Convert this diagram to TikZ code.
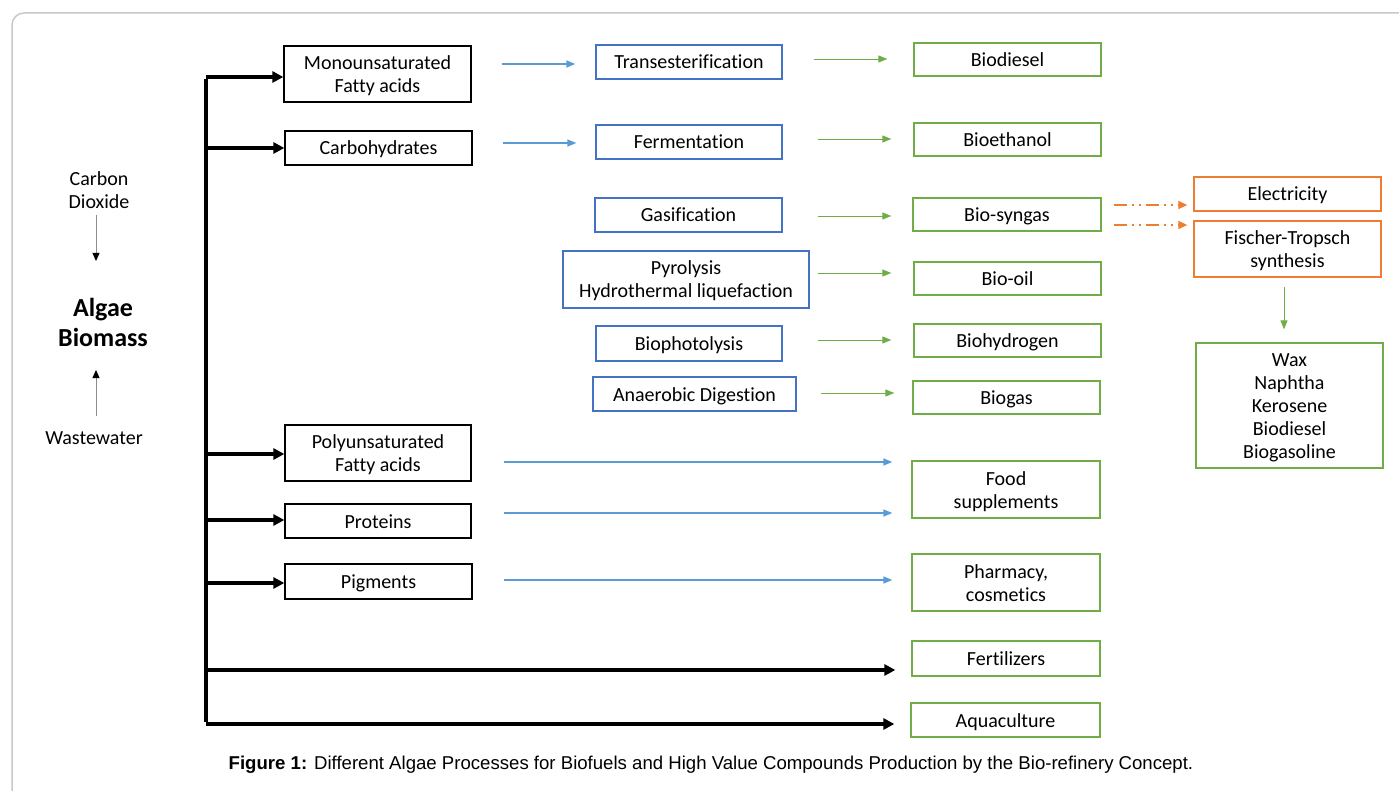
\documentclass[tikz,border=0pt]{standalone}
\usepackage{fontspec}
\setmainfont{Carlito}[Ligatures=CommonOff]
\newfontfamily\capfont{Liberation Sans}
\usetikzlibrary{arrows.meta}
\definecolor{frameg}{HTML}{C8C8C8}
\definecolor{oblue}{HTML}{4472C4}
\definecolor{ablue}{HTML}{5B9BD5}
\definecolor{ogreen}{HTML}{70AD47}
\definecolor{oorange}{HTML}{ED7D31}
\newcommand{\boxstrut}{\rule[-5pt]{0pt}{24pt}}
\newcommand{\tstrut}{\rule{0pt}{19pt}}
\tikzset{
  x=1pt,y=-1pt,
  every node/.style={font=\fontsize{20}{23}\selectfont, align=center, inner sep=0pt},
  anybox/.style={line width=1.3pt, fill=white, execute at begin node=\boxstrut},
  bbox/.style={anybox, draw=black},
  pbox/.style={anybox, draw=oblue},
  gbox/.style={anybox, draw=ogreen},
  obox/.style={anybox, draw=oorange},
  trunk/.style={line width=3.5pt, -{Triangle[length=11pt,width=11pt]}},
  barrow/.style={draw=ablue, line width=1.6pt, -{Triangle[length=9pt,width=7pt]}},
  garrow/.style={draw=ogreen, line width=0.9pt, -{Triangle[length=9pt,width=7pt]}},
  oarrow/.style={draw=oorange, line width=1.5pt, dash pattern=on 13pt off 5pt on 2pt off 5pt on 2pt off 5pt, -{Triangle[length=9pt,width=8pt]}},
  sarrow/.style={draw=black!45, line width=0.8pt, -{Triangle[length=8pt,width=7pt,fill=black,color=black]}},
}
\begin{document}
\begin{tikzpicture}
\useasboundingbox (0,0) rectangle (1399,791);
\begin{scope}
\clip (0,0) rectangle (1399,791);
\draw[frameg, line width=1.5pt, rounded corners=12pt] (12,13) rectangle (1420,810);
\end{scope}

% left side
\node (co2) at (99,190) {Carbon\\Dioxide};
\node[font=\fontsize{26}{30}\selectfont\bfseries] (algae) at (103,322) {Algae\\Biomass};
\node (ww) at (94,438) {Wastewater};
\coordinate (co2a) at (96,215);
\coordinate (co2b) at (96,261);
\coordinate (wwa) at (96,416);
\coordinate (wwb) at (96,370);
\draw[sarrow] (co2a) -- (co2b);
\draw[sarrow] (wwa) -- (wwb);

% compounds (black)
\node[bbox, minimum width=187, minimum height=56] (mono) at (377.5,74) {\tstrut Monounsaturated\\Fatty acids};
\node[bbox, minimum width=187, minimum height=34] (carb) at (378.5,148) {Carbohydrates};
\node[bbox, minimum width=186, minimum height=56] (poly) at (378,453) {\tstrut Polyunsaturated\\Fatty acids};
\node[bbox, minimum width=186, minimum height=34] (prot) at (378,521) {Proteins};
\node[bbox, minimum width=187, minimum height=35] (pigm) at (378.5,581.5) {Pigments};

% processes (blue)
\node[pbox, minimum width=186, minimum height=34] (trans) at (689,62) {Transesterification};
\node[pbox, minimum width=186, minimum height=34] (ferm) at (689,142) {Fermentation};
\node[pbox, minimum width=187, minimum height=34] (gasi) at (688.5,215) {Gasification};
\node[pbox, minimum width=246, minimum height=57] (pyro) at (686,279.5) {\tstrut Pyrolysis\\Hydrothermal liquefaction};
\node[pbox, minimum width=186, minimum height=35] (bph) at (689,343.5) {Biophotolysis};
\node[pbox, minimum width=203, minimum height=34] (anae) at (694.5,394) {Anaerobic Digestion};

% products (green)
\node[gbox, minimum width=187, minimum height=33] (bdsl) at (1007.5,59.5) {Biodiesel};
\node[gbox, minimum width=187, minimum height=33] (beth) at (1007.5,139.5) {Bioethanol};
\node[gbox, minimum width=188, minimum height=33] (bsyn) at (1007,214.5) {Bio-syngas};
\node[gbox, minimum width=187, minimum height=33] (boil) at (1007.5,278.5) {Bio-oil};
\node[gbox, minimum width=187, minimum height=33] (bhyd) at (1007.5,340.5) {Biohydrogen};
\node[gbox, minimum width=187, minimum height=33] (bgas) at (1006.5,397.5) {Biogas};
\node[gbox, minimum width=188, minimum height=57] (food) at (1006,489.5) {\tstrut Food\\supplements};
\node[gbox, minimum width=188, minimum height=57] (phar) at (1006,582.5) {\tstrut Pharmacy,\\cosmetics};
\node[gbox, minimum width=188, minimum height=35] (fert) at (1006,658.5) {Fertilizers};
\node[gbox, minimum width=189, minimum height=34] (aqua) at (1005.5,720) {Aquaculture};

% right side
\node[obox, minimum width=187, minimum height=34] (elec) at (1287.5,194) {Electricity};
\node[obox, minimum width=187, minimum height=56] (fts) at (1287.5,249) {\tstrut Fischer-Tropsch\\synthesis};
\node[gbox, minimum width=187, minimum height=125] (wax) at (1289.5,405.5) {\tstrut Wax\\Naphtha\\Kerosene\\Biodiesel\\Biogasoline};

% trunk
\coordinate (ttop) at (206,77);
\coordinate (tbot) at (206,724);
\draw[line width=3.5pt] ([yshift=-1.75pt]ttop) -- ([yshift=1.75pt]tbot);
\draw[trunk] (ttop) -- (mono.west |- ttop);
\draw[trunk] (206,148) -- (carb.west);
\draw[trunk] (206,454) -- (poly.west |- 0,454);
\draw[trunk] (206,520) -- (prot.west |- 0,520);
\draw[trunk] (206,583) -- (pigm.west |- 0,583);
\draw[trunk] (206,670) -- ([xshift=-16pt]fert.west |- 0,670);
\draw[trunk] (tbot) -- ([xshift=-16pt]aqua.west |- tbot);

% blue arrows
\draw[barrow] ([xshift=30pt]mono.east |- 0,64) -- ([xshift=-20pt]trans.west |- 0,64);
\draw[barrow] ([xshift=30pt]carb.east |- 0,143) -- ([xshift=-19pt]ferm.west |- 0,143);
\draw[barrow] ([xshift=32pt]poly.east |- 0,462) -- ([xshift=-19pt]food.west |- 0,462);
\draw[barrow] ([xshift=32pt]prot.east |- 0,513) -- ([xshift=-19pt]food.west |- 0,513);
\draw[barrow] ([xshift=31pt]pigm.east |- 0,580) -- ([xshift=-19pt]phar.west |- 0,580);

% green arrows
\draw[garrow] ([xshift=31pt]trans.east |- 0,59) -- ([xshift=-26pt]bdsl.west |- 0,59);
\draw[garrow] ([xshift=35pt]ferm.east |- 0,139) -- ([xshift=-22pt]beth.west |- 0,139);
\draw[garrow] ([xshift=35pt]gasi.east |- 0,216) -- ([xshift=-21pt]bsyn.west |- 0,216);
\draw[garrow] ([xshift=8pt]pyro.east |- 0,273) -- ([xshift=-22pt]boil.west |- 0,273);
\draw[garrow] ([xshift=35pt]bph.east |- 0,340) -- ([xshift=-22pt]bhyd.west |- 0,340);
\draw[garrow] ([xshift=24pt]anae.east |- 0,393) -- ([xshift=-18pt]bgas.west |- 0,393);
\draw[garrow] ([yshift=-9pt]fts.south -| 1284,0) -- ([yshift=13pt]wax.north -| 1284,0);

% orange arrows
\draw[oarrow] ([xshift=12pt]bsyn.east |- 0,205) -- ([xshift=-6pt]elec.west |- 0,205);
\draw[oarrow] ([xshift=12pt]bsyn.east |- 0,225) -- ([xshift=-6pt]fts.west |- 0,225);

% caption
\node[font=\capfont\fontsize{18.6}{22}\selectfont] (cap) at (711,765) {\textbf{Figure 1:} Different Algae Processes for Biofuels and High Value Compounds Production by the Bio-refinery Concept.};
\end{tikzpicture}
\end{document}
